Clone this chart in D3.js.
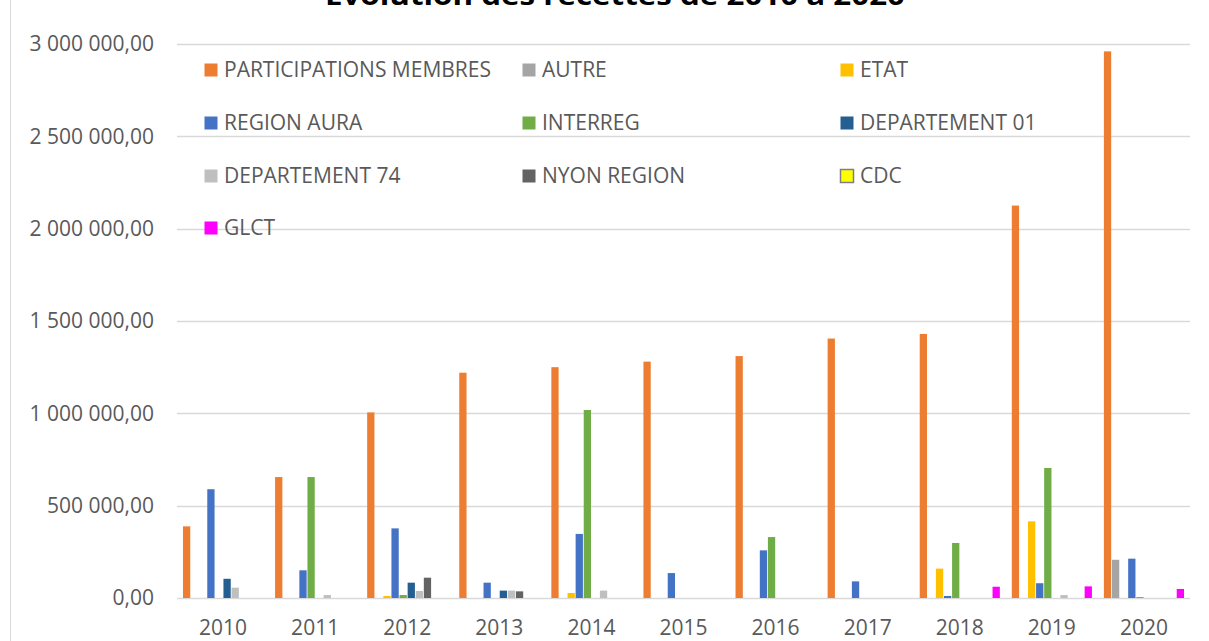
<!DOCTYPE html>
<html>
<head>
<meta charset="utf-8">
<script src="https://cdn.jsdelivr.net/npm/d3@7"></script>
<style>
  body { margin: 0; background: #fff; }
  svg { display: block; font-family: "Open Sans", sans-serif; }
</style>
</head>
<body>
<script>
var width = 1209, height = 641;

// data
var years = ["2010", "2011", "2012", "2013", "2014", "2015", "2016", "2017", "2018", "2019", "2020"];
var seriesNames = ["PARTICIPATIONS MEMBRES", "AUTRE", "ETAT", "REGION AURA", "INTERREG",
    "DEPARTEMENT 01", "DEPARTEMENT 74", "NYON REGION", "CDC", "GLCT"];
var seriesColors = ["#ED7D31", "#A5A5A5", "#FFC000", "#4472C4", "#70AD47",
    "#255E91", "#BFBFBF", "#636363", "#FFFF00", "#FF00FF"];

var participations = [388000, 655000, 1005000, 1220000, 1250000, 1280000, 1310000, 1405000, 1430000, 2125000, 2960000];
var autre          = [0, 0, 0, 0, 0, 0, 0, 0, 0, 0, 207000];
var etat           = [0, 0, 11000, 0, 27000, 0, 0, 0, 159000, 415000, 0];
var regionAura     = [589000, 150000, 377000, 83000, 347000, 135000, 258000, 90000, 11000, 80000, 213000];
var interreg       = [0, 655000, 16000, 0, 1018000, 0, 330000, 0, 298000, 704000, 5000];
var dept01         = [104000, 0, 83000, 40000, 0, 0, 0, 0, 0, 0, 0];
var dept74         = [56000, 16000, 38000, 40000, 40000, 0, 0, 0, 0, 16000, 0];
var nyonRegion     = [0, 0, 110000, 36000, 0, 0, 0, 0, 0, 0, 0];
var cdc            = [0, 0, 0, 0, 0, 0, 0, 0, 0, 0, 0];
var glct           = [0, 0, 0, 0, 0, 0, 0, 0, 61000, 63000, 49000];

var yTicks = [0, 500000, 1000000, 1500000, 2000000, 2500000, 3000000];

var seriesValues = [participations, autre, etat, regionAura, interreg,
    dept01, dept74, nyonRegion, cdc, glct];

var labelSize = "21px";

var svg = d3.select("body")
    .append("svg")
    .attr("width", width)
    .attr("height", height);

// chart border (only left edge shows)
svg.append("line")
    .attr("x1", 10.5).attr("x2", 10.5)
    .attr("y1", 0).attr("y2", height)
    .style("stroke", "#d9d9d9");

var x0 = d3.scaleBand()
    .domain(years)
    .range([177, 1190])
    .paddingInner(0.13)
    .paddingOuter(0.065);

var x1 = d3.scaleBand()
    .domain(seriesNames)
    .range([0, x0.bandwidth()])
    .paddingInner(0.1);

var y = d3.scaleLinear()
    .domain([0, 3000000])
    .range([598, 44]);

var fmt = function (v) {
    var s = d3.format(",.2f")(v);
    return s.replace(/,/g, " ").replace(".", ",");
};

// gridlines
svg.append("g")
    .selectAll("line")
    .data(yTicks)
    .enter().append("line")
    .attr("x1", 177)
    .attr("x2", 1190)
    .attr("y1", function (d) { return Math.round(y(d)) + 0.5; })
    .attr("y2", function (d) { return Math.round(y(d)) + 0.5; })
    .style("stroke", "#d9d9d9")
    .style("stroke-width", 1.5);

// y axis labels
var yAxis = d3.axisLeft(y)
    .tickValues(yTicks)
    .tickFormat(fmt)
    .tickSize(0)
    .tickPadding(0);

var yg = svg.append("g")
    .attr("transform", "translate(154,0)")
    .call(yAxis);
yg.select(".domain").remove();
yg.selectAll("text")
    .style("font-family", "Open Sans")
    .style("font-size", labelSize)
    .style("fill", "#595959");

// bars
var groups = svg.append("g")
    .selectAll("g")
    .data(years)
    .enter().append("g")
    .attr("transform", function (d) { return "translate(" + x0(d) + ",0)"; });

groups.selectAll("rect")
    .data(function (d, i) {
        return seriesNames.map(function (name, s) {
            return { name: name, value: seriesValues[s][i], color: seriesColors[s] };
        });
    })
    .enter().append("rect")
    .filter(function (d) { return d.value > 0; })
    .attr("x", function (d) { return x1(d.name); })
    .attr("width", x1.bandwidth())
    .attr("y", function (d) { return y(d.value); })
    .attr("height", function (d) { return y(0) - y(d.value); })
    .style("fill", function (d) { return d.color; });

// x axis labels
var xAxis = d3.axisBottom(x0)
    .tickSize(0)
    .tickPadding(0);

var xg = svg.append("g")
    .attr("transform", "translate(0,620)")
    .call(xAxis);
xg.select(".domain").remove();
xg.selectAll("text")
    .style("font-family", "Open Sans")
    .style("font-size", labelSize)
    .style("fill", "#595959");

// title, cut by the top edge as in the original
svg.append("text")
    .attr("x", 615)
    .attr("y", 5)
    .attr("text-anchor", "middle")
    .attr("textLength", 580)
    .attr("lengthAdjust", "spacingAndGlyphs")
    .style("font-family", "Open Sans")
    .style("font-weight", "bold")
    .style("font-size", "26px")
    .style("fill", "#000")
    .text("Evolution des recettes de 2010 à 2020");

// legend
var legendCols = [204, 522, 840];
var legendRows = [70, 123, 176, 228];

var legend = svg.append("g")
    .selectAll("g")
    .data(seriesNames)
    .enter().append("g")
    .attr("transform", function (d, i) {
        return "translate(" + legendCols[i % 3] + "," + legendRows[Math.floor(i / 3)] + ")";
    });

legend.append("rect")
    .attr("x", 0.5)
    .attr("y", -6.5)
    .attr("width", 13)
    .attr("height", 13)
    .style("fill", function (d, i) { return seriesColors[i]; })
    .style("stroke", function (d) { return d === "CDC" ? "#7f7f7f" : "none"; })
    .style("stroke-width", 1.5);

legend.append("text")
    .attr("x", 20)
    .attr("y", 0)
    .attr("dy", "0.35em")
    .style("font-family", "Open Sans")
    .style("font-size", labelSize)
    .style("fill", "#595959")
    .text(function (d) { return d; });
</script>
</body>
</html>
